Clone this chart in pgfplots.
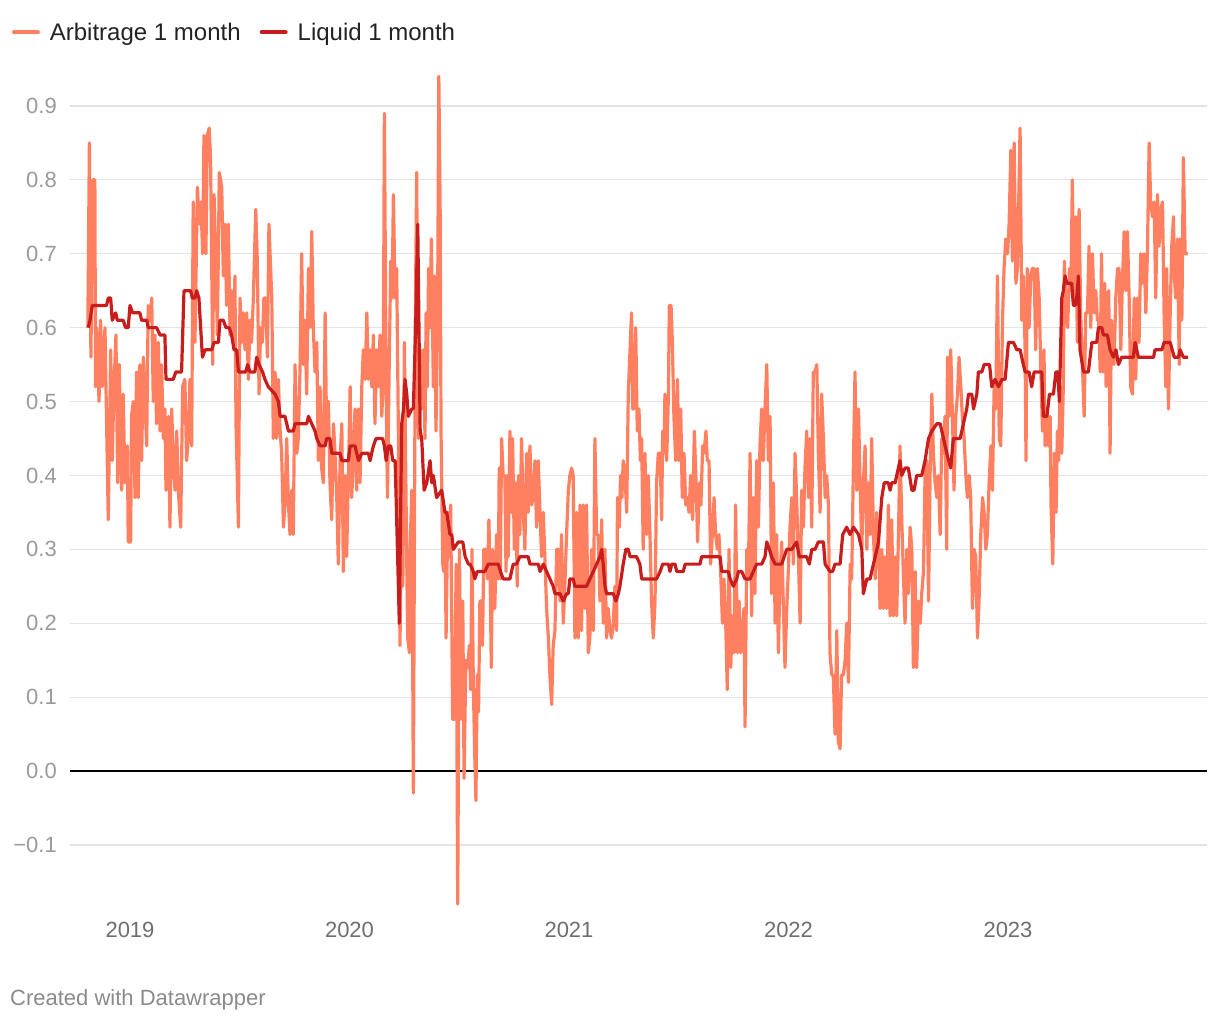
\documentclass[border=0pt]{standalone}
\usepackage{pgfplots}
\pgfplotsset{compat=1.18}
\usepackage{fontspec}
\setmainfont{Liberation Sans}
\definecolor{arb}{HTML}{FF7F61}
\definecolor{liq}{HTML}{C71E1D}
\definecolor{gridc}{HTML}{E3E3E3}
\definecolor{ygrey}{HTML}{9A9A9A}
\definecolor{xgrey}{HTML}{6E6E6E}
\definecolor{footc}{HTML}{8A8A8A}
\definecolor{legtext}{HTML}{222222}
\begin{document}
\begin{tikzpicture}
\useasboundingbox (0pt,0pt) rectangle (1220pt,1020pt);
\begin{axis}[
  at={(70pt,110pt)}, anchor=south west,
  scale only axis, width=1137pt, height=840pt,
  xmin=2018.7267, xmax=2023.9066,
  ymin=-0.188, ymax=0.9486,
  clip=false,
  axis line style={draw=none},
  major tick length=0pt,
  tick style={draw=none},
  ymajorgrids,
  grid style={gridc, line width=1.2pt},
  xtick={2019,2020,2021,2022,2023},
  xticklabels={2019,2020,2021,2022,2023},
  ytick={-0.1,0,0.1,0.2,0.3,0.4,0.5,0.6,0.7,0.8,0.9},
  yticklabels={−0.1,0.0,0.1,0.2,0.3,0.4,0.5,0.6,0.7,0.8,0.9},
  yticklabel style={anchor=east, inner sep=0pt, xshift=-13pt, text=ygrey, font=\fontsize{22}{26}\selectfont},
  xticklabel style={anchor=north, inner sep=0pt, yshift=-12pt, text=xgrey, font=\fontsize{22}{26}\selectfont},
  legend style={
    at={(axis description cs:-0.0511,1.045)}, anchor=west,
    draw=none, fill=none, inner sep=0pt, outer sep=0pt,
    font=\fontsize{24}{28}\selectfont, text=legtext,
    /tikz/every odd column/.append style={column sep=10pt},
    /tikz/every even column/.append style={column sep=19pt},
    nodes={inner sep=0pt},
  },
  legend columns=-1,
  legend image code/.code={\draw[#1, line width=4pt, line cap=round] (2pt,0pt) -- (26pt,0pt);},
]
\draw[black, line width=1.5pt] (axis cs:2018.7267,0) -- (axis cs:2023.9066,0);
\addplot[arb, line width=3.2pt, line join=round] coordinates {
(2018.808,0.60)(2018.815,0.85)(2018.822,0.56)(2018.830,0.80)(2018.840,0.80)(2018.843,0.52)(2018.848,0.60)(2018.859,0.50)(2018.866,0.61)(2018.874,0.52)
(2018.886,0.60)(2018.901,0.34)(2018.912,0.57)(2018.919,0.42)(2018.927,0.52)(2018.936,0.59)(2018.944,0.39)(2018.951,0.55)(2018.962,0.38)(2018.969,0.51)
(2018.977,0.39)(2018.988,0.44)(2018.992,0.31)(2019.003,0.31)(2019.007,0.48)(2019.015,0.50)(2019.023,0.37)(2019.030,0.54)(2019.038,0.37)(2019.045,0.55)
(2019.053,0.42)(2019.061,0.56)(2019.076,0.44)(2019.083,0.63)(2019.091,0.61)(2019.099,0.64)(2019.106,0.50)(2019.114,0.59)(2019.121,0.47)(2019.129,0.58)
(2019.137,0.46)(2019.144,0.55)(2019.152,0.45)(2019.159,0.49)(2019.164,0.38)(2019.175,0.48)(2019.182,0.33)(2019.190,0.49)(2019.197,0.42)(2019.205,0.38)
(2019.213,0.46)(2019.220,0.38)(2019.231,0.33)(2019.240,0.52)(2019.250,0.53)(2019.258,0.42)(2019.266,0.45)(2019.273,0.53)(2019.281,0.44)(2019.288,0.77)
(2019.296,0.58)(2019.307,0.79)(2019.316,0.74)(2019.323,0.77)(2019.331,0.70)(2019.337,0.86)(2019.346,0.70)(2019.352,0.86)(2019.361,0.87)(2019.367,0.83)
(2019.377,0.55)(2019.383,0.78)(2019.392,0.68)(2019.398,0.59)(2019.407,0.81)(2019.418,0.79)(2019.425,0.67)(2019.433,0.74)(2019.440,0.63)(2019.448,0.74)
(2019.456,0.59)(2019.463,0.65)(2019.471,0.58)(2019.478,0.67)(2019.483,0.47)(2019.494,0.33)(2019.501,0.64)(2019.509,0.58)(2019.516,0.62)(2019.524,0.57)
(2019.532,0.62)(2019.539,0.53)(2019.547,0.61)(2019.554,0.58)(2019.562,0.64)(2019.573,0.76)(2019.580,0.69)(2019.588,0.51)(2019.595,0.60)(2019.603,0.58)
(2019.610,0.64)(2019.618,0.64)(2019.626,0.56)(2019.633,0.74)(2019.646,0.64)(2019.653,0.45)(2019.661,0.54)(2019.668,0.45)(2019.676,0.53)(2019.684,0.46)
(2019.691,0.43)(2019.699,0.33)(2019.706,0.36)(2019.714,0.45)(2019.722,0.36)(2019.729,0.32)(2019.737,0.38)(2019.744,0.32)(2019.752,0.55)(2019.760,0.43)
(2019.767,0.45)(2019.775,0.55)(2019.782,0.70)(2019.790,0.55)(2019.797,0.61)(2019.805,0.51)(2019.813,0.68)(2019.820,0.60)(2019.828,0.73)(2019.835,0.60)
(2019.843,0.54)(2019.851,0.58)(2019.858,0.42)(2019.866,0.52)(2019.873,0.41)(2019.881,0.39)(2019.889,0.62)(2019.896,0.45)(2019.904,0.50)(2019.911,0.39)
(2019.919,0.34)(2019.927,0.47)(2019.934,0.43)(2019.942,0.37)(2019.949,0.28)(2019.957,0.42)(2019.965,0.47)(2019.972,0.27)(2019.980,0.40)(2019.987,0.29)
(2019.995,0.40)(2020.003,0.52)(2020.010,0.37)(2020.018,0.42)(2020.025,0.49)(2020.033,0.38)(2020.041,0.49)(2020.048,0.39)(2020.056,0.52)(2020.063,0.57)
(2020.071,0.53)(2020.079,0.62)(2020.086,0.53)(2020.094,0.57)(2020.101,0.52)(2020.109,0.59)(2020.116,0.47)(2020.124,0.57)(2020.132,0.52)(2020.139,0.59)
(2020.147,0.48)(2020.154,0.53)(2020.159,0.89)(2020.167,0.52)(2020.173,0.37)(2020.180,0.53)(2020.188,0.69)(2020.194,0.64)(2020.200,0.78)(2020.208,0.64)
(2020.215,0.68)(2020.223,0.45)(2020.230,0.17)(2020.238,0.37)(2020.243,0.25)(2020.250,0.58)(2020.258,0.36)(2020.265,0.18)(2020.273,0.16)(2020.276,0.30)
(2020.284,0.38)(2020.291,-0.03)(2020.296,0.33)(2020.300,0.61)(2020.306,0.81)(2020.314,0.45)(2020.322,0.57)(2020.329,0.49)(2020.337,0.57)(2020.344,0.45)
(2020.349,0.62)(2020.355,0.52)(2020.360,0.68)(2020.367,0.60)(2020.373,0.72)(2020.382,0.52)(2020.387,0.67)(2020.394,0.46)(2020.401,0.60)(2020.407,0.94)
(2020.413,0.76)(2020.417,0.46)(2020.425,0.28)(2020.429,0.27)(2020.435,0.35)(2020.440,0.18)(2020.448,0.35)(2020.455,0.29)(2020.461,0.36)(2020.470,0.07)
(2020.478,0.07)(2020.486,0.28)(2020.493,-0.18)(2020.501,0.30)(2020.508,0.07)(2020.516,0.23)(2020.522,-0.01)(2020.530,0.15)(2020.539,0.14)(2020.546,0.17)
(2020.552,0.11)(2020.558,0.30)(2020.564,0.12)(2020.570,0.03)(2020.576,-0.04)(2020.582,0.13)(2020.588,0.08)(2020.594,0.23)(2020.602,0.23)(2020.606,0.17)
(2020.612,0.30)(2020.621,0.30)(2020.629,0.26)(2020.635,0.34)(2020.640,0.28)(2020.646,0.14)(2020.652,0.30)(2020.658,0.22)(2020.662,0.22)(2020.670,0.32)
(2020.678,0.26)(2020.682,0.41)(2020.687,0.26)(2020.693,0.45)(2020.700,0.40)(2020.708,0.40)(2020.713,0.27)(2020.719,0.40)(2020.723,0.29)(2020.731,0.46)
(2020.738,0.35)(2020.743,0.45)(2020.751,0.30)(2020.758,0.39)(2020.764,0.25)(2020.770,0.40)(2020.776,0.32)(2020.784,0.45)(2020.792,0.35)(2020.799,0.30)
(2020.807,0.43)(2020.814,0.35)(2020.822,0.44)(2020.830,0.36)(2020.837,0.37)(2020.845,0.42)(2020.852,0.33)(2020.860,0.42)(2020.868,0.35)(2020.875,0.29)
(2020.883,0.35)(2020.890,0.29)(2020.898,0.22)(2020.906,0.18)(2020.913,0.13)(2020.921,0.09)(2020.928,0.17)(2020.936,0.19)(2020.944,0.30)(2020.951,0.30)
(2020.959,0.23)(2020.966,0.32)(2020.974,0.20)(2020.981,0.25)(2020.989,0.32)(2020.997,0.38)(2021.004,0.40)(2021.012,0.41)(2021.019,0.40)(2021.027,0.18)
(2021.035,0.35)(2021.042,0.18)(2021.050,0.36)(2021.057,0.19)(2021.065,0.36)(2021.073,0.22)(2021.080,0.36)(2021.088,0.16)(2021.095,0.18)(2021.103,0.30)
(2021.111,0.19)(2021.118,0.45)(2021.126,0.32)(2021.133,0.32)(2021.141,0.23)(2021.149,0.34)(2021.156,0.20)(2021.164,0.30)(2021.171,0.18)(2021.179,0.22)
(2021.187,0.19)(2021.194,0.18)(2021.202,0.20)(2021.209,0.25)(2021.217,0.19)(2021.221,0.37)(2021.229,0.33)(2021.235,0.40)(2021.241,0.37)(2021.247,0.42)
(2021.255,0.40)(2021.263,0.35)(2021.270,0.51)(2021.278,0.57)(2021.285,0.62)(2021.290,0.49)(2021.296,0.49)(2021.304,0.60)(2021.311,0.46)(2021.319,0.49)
(2021.325,0.42)(2021.331,0.45)(2021.338,0.30)(2021.346,0.43)(2021.354,0.32)(2021.361,0.40)(2021.369,0.32)(2021.376,0.23)(2021.384,0.18)(2021.392,0.23)
(2021.399,0.39)(2021.407,0.43)(2021.415,0.43)(2021.422,0.34)(2021.427,0.46)(2021.433,0.43)(2021.437,0.51)(2021.445,0.42)(2021.453,0.51)(2021.457,0.63)
(2021.465,0.63)(2021.471,0.58)(2021.478,0.48)(2021.486,0.42)(2021.494,0.53)(2021.501,0.42)(2021.509,0.49)(2021.516,0.37)(2021.524,0.43)(2021.532,0.36)
(2021.539,0.37)(2021.547,0.35)(2021.554,0.40)(2021.563,0.34)(2021.571,0.46)(2021.579,0.39)(2021.586,0.31)(2021.594,0.39)(2021.601,0.36)(2021.609,0.44)
(2021.615,0.43)(2021.624,0.46)(2021.630,0.42)(2021.638,0.42)(2021.645,0.28)(2021.653,0.32)(2021.661,0.37)(2021.668,0.32)(2021.676,0.30)(2021.683,0.32)
(2021.691,0.27)(2021.699,0.20)(2021.706,0.26)(2021.714,0.20)(2021.721,0.11)(2021.729,0.30)(2021.737,0.14)(2021.744,0.21)(2021.752,0.16)(2021.759,0.36)
(2021.767,0.16)(2021.775,0.23)(2021.782,0.16)(2021.790,0.19)(2021.797,0.22)(2021.802,0.06)(2021.810,0.30)(2021.817,0.26)(2021.825,0.43)(2021.832,0.21)
(2021.840,0.37)(2021.847,0.24)(2021.855,0.42)(2021.863,0.33)(2021.870,0.44)(2021.878,0.49)(2021.885,0.42)(2021.893,0.49)(2021.901,0.55)(2021.908,0.42)
(2021.916,0.48)(2021.923,0.24)(2021.931,0.39)(2021.939,0.20)(2021.946,0.32)(2021.954,0.16)(2021.961,0.26)(2021.969,0.31)(2021.977,0.22)(2021.984,0.14)
(2021.992,0.22)(2021.999,0.27)(2022.007,0.33)(2022.015,0.37)(2022.022,0.28)(2022.030,0.43)(2022.037,0.37)(2022.045,0.29)(2022.053,0.20)(2022.060,0.38)
(2022.068,0.33)(2022.075,0.41)(2022.083,0.46)(2022.091,0.37)(2022.098,0.45)(2022.106,0.33)(2022.113,0.54)(2022.121,0.54)(2022.129,0.55)(2022.136,0.43)
(2022.144,0.35)(2022.151,0.51)(2022.159,0.45)(2022.167,0.37)(2022.174,0.40)(2022.182,0.36)(2022.189,0.16)(2022.197,0.13)(2022.204,0.13)(2022.212,0.05)
(2022.220,0.19)(2022.227,0.04)(2022.235,0.03)(2022.242,0.13)(2022.250,0.13)(2022.258,0.15)(2022.265,0.20)(2022.273,0.12)(2022.281,0.28)(2022.288,0.26)
(2022.296,0.42)(2022.303,0.54)(2022.311,0.38)(2022.319,0.49)(2022.326,0.39)(2022.334,0.30)(2022.341,0.39)(2022.349,0.44)(2022.357,0.30)(2022.364,0.39)
(2022.372,0.32)(2022.379,0.45)(2022.387,0.32)(2022.395,0.26)(2022.402,0.35)(2022.410,0.31)(2022.417,0.22)(2022.425,0.30)(2022.432,0.22)(2022.440,0.29)
(2022.448,0.22)(2022.455,0.36)(2022.463,0.21)(2022.470,0.34)(2022.478,0.21)(2022.486,0.29)(2022.493,0.21)(2022.501,0.32)(2022.508,0.44)(2022.516,0.34)
(2022.524,0.26)(2022.531,0.20)(2022.539,0.30)(2022.546,0.24)(2022.554,0.33)(2022.562,0.30)(2022.569,0.14)(2022.577,0.27)(2022.584,0.14)(2022.592,0.23)
(2022.600,0.20)(2022.607,0.24)(2022.615,0.27)(2022.622,0.40)(2022.630,0.42)(2022.638,0.23)(2022.645,0.40)(2022.653,0.51)(2022.660,0.43)(2022.668,0.39)
(2022.676,0.37)(2022.683,0.40)(2022.691,0.32)(2022.698,0.45)(2022.706,0.43)(2022.713,0.48)(2022.721,0.30)(2022.724,0.56)(2022.732,0.48)(2022.739,0.57)
(2022.747,0.48)(2022.754,0.38)(2022.762,0.48)(2022.770,0.51)(2022.777,0.56)(2022.785,0.52)(2022.792,0.48)(2022.800,0.45)(2022.808,0.40)(2022.815,0.37)
(2022.823,0.40)(2022.830,0.37)(2022.838,0.22)(2022.846,0.30)(2022.853,0.29)(2022.861,0.18)(2022.868,0.23)(2022.876,0.32)(2022.884,0.37)(2022.891,0.35)
(2022.899,0.30)(2022.906,0.32)(2022.914,0.39)(2022.922,0.44)(2022.929,0.38)(2022.937,0.52)(2022.944,0.49)(2022.952,0.67)(2022.960,0.45)(2022.967,0.44)
(2022.975,0.61)(2022.982,0.68)(2022.990,0.72)(2022.998,0.70)(2023.005,0.74)(2023.013,0.84)(2023.020,0.69)(2023.028,0.85)(2023.036,0.66)(2023.043,0.68)
(2023.055,0.87)(2023.063,0.61)(2023.070,0.67)(2023.078,0.57)(2023.082,0.42)(2023.088,0.68)(2023.096,0.60)(2023.104,0.67)(2023.111,0.68)(2023.119,0.68)
(2023.126,0.57)(2023.134,0.68)(2023.142,0.64)(2023.149,0.55)(2023.157,0.46)(2023.164,0.57)(2023.169,0.44)(2023.177,0.49)(2023.184,0.44)(2023.192,0.48)
(2023.196,0.36)(2023.204,0.28)(2023.211,0.43)(2023.219,0.35)(2023.225,0.46)(2023.231,0.42)(2023.237,0.52)(2023.245,0.43)(2023.252,0.52)(2023.257,0.69)
(2023.265,0.62)(2023.272,0.60)(2023.280,0.68)(2023.287,0.65)(2023.293,0.80)(2023.301,0.63)(2023.309,0.75)(2023.316,0.58)(2023.324,0.76)(2023.331,0.62)
(2023.339,0.55)(2023.347,0.48)(2023.354,0.62)(2023.362,0.62)(2023.369,0.71)(2023.377,0.60)(2023.385,0.70)(2023.392,0.62)(2023.400,0.65)(2023.407,0.61)
(2023.413,0.61)(2023.420,0.54)(2023.426,0.70)(2023.433,0.54)(2023.441,0.66)(2023.447,0.52)(2023.453,0.64)(2023.459,0.65)(2023.465,0.43)(2023.471,0.61)
(2023.477,0.58)(2023.483,0.55)(2023.491,0.64)(2023.499,0.68)(2023.506,0.68)(2023.514,0.57)(2023.521,0.66)(2023.529,0.73)(2023.537,0.65)(2023.544,0.73)
(2023.552,0.64)(2023.559,0.52)(2023.567,0.51)(2023.575,0.64)(2023.582,0.53)(2023.590,0.64)(2023.597,0.58)(2023.605,0.70)(2023.612,0.66)(2023.620,0.70)
(2023.628,0.62)(2023.635,0.70)(2023.643,0.85)(2023.650,0.77)(2023.658,0.75)(2023.666,0.77)(2023.673,0.64)(2023.681,0.78)(2023.688,0.71)(2023.696,0.76)
(2023.704,0.77)(2023.711,0.62)(2023.719,0.52)(2023.723,0.68)(2023.731,0.49)(2023.739,0.62)(2023.746,0.71)(2023.754,0.75)(2023.758,0.67)(2023.764,0.64)
(2023.772,0.72)(2023.780,0.55)(2023.784,0.72)(2023.792,0.61)(2023.799,0.83)(2023.807,0.70)(2023.815,0.70)(2023.819,0.70)
};
\addlegendentry{Arbitrage 1 month}
\addplot[liq, line width=3.2pt, line join=round] coordinates {
(2018.810,0.60)(2018.818,0.61)(2018.828,0.63)(2018.893,0.63)(2018.901,0.64)(2018.912,0.64)(2018.919,0.61)(2018.935,0.62)(2018.942,0.61)(2018.969,0.61)
(2018.980,0.60)(2018.992,0.60)(2019.000,0.63)(2019.012,0.62)(2019.045,0.62)(2019.053,0.61)(2019.076,0.61)(2019.083,0.60)(2019.121,0.60)(2019.137,0.59)
(2019.159,0.59)(2019.164,0.53)(2019.197,0.53)(2019.209,0.54)(2019.235,0.54)(2019.246,0.65)(2019.276,0.65)(2019.284,0.64)(2019.296,0.64)(2019.304,0.65)
(2019.314,0.64)(2019.330,0.56)(2019.342,0.57)(2019.372,0.57)(2019.383,0.58)(2019.403,0.58)(2019.410,0.61)(2019.425,0.61)(2019.437,0.60)(2019.452,0.60)
(2019.463,0.59)(2019.474,0.57)(2019.486,0.57)(2019.494,0.54)(2019.516,0.54)(2019.527,0.54)(2019.536,0.55)(2019.547,0.54)(2019.569,0.54)(2019.577,0.56)
(2019.588,0.55)(2019.604,0.54)(2019.615,0.53)(2019.630,0.52)(2019.661,0.51)(2019.676,0.50)(2019.684,0.48)(2019.706,0.48)(2019.722,0.46)(2019.744,0.46)
(2019.752,0.47)(2019.805,0.47)(2019.813,0.48)(2019.828,0.47)(2019.843,0.46)(2019.851,0.45)(2019.866,0.44)(2019.889,0.44)(2019.896,0.45)(2019.911,0.45)
(2019.919,0.43)(2019.957,0.43)(2019.965,0.42)(2019.995,0.42)(2020.003,0.44)(2020.025,0.44)(2020.033,0.43)(2020.041,0.42)(2020.056,0.43)(2020.086,0.43)
(2020.094,0.42)(2020.101,0.43)(2020.109,0.44)(2020.121,0.45)(2020.151,0.45)(2020.159,0.44)(2020.167,0.42)(2020.177,0.44)(2020.188,0.44)(2020.197,0.42)
(2020.208,0.42)(2020.215,0.34)(2020.227,0.20)(2020.238,0.47)(2020.246,0.49)(2020.253,0.53)(2020.261,0.51)(2020.268,0.48)(2020.284,0.49)(2020.291,0.49)
(2020.302,0.61)(2020.311,0.74)(2020.322,0.46)(2020.329,0.45)(2020.340,0.38)(2020.352,0.39)(2020.367,0.42)(2020.375,0.39)(2020.382,0.40)(2020.397,0.37)
(2020.420,0.38)(2020.435,0.35)(2020.443,0.35)(2020.458,0.32)(2020.466,0.32)(2020.473,0.30)(2020.496,0.31)(2020.516,0.31)(2020.527,0.29)(2020.542,0.28)
(2020.549,0.28)(2020.564,0.27)(2020.571,0.26)(2020.582,0.27)(2020.617,0.27)(2020.632,0.28)(2020.678,0.28)(2020.688,0.27)(2020.700,0.26)(2020.731,0.26)
(2020.738,0.27)(2020.746,0.28)(2020.761,0.28)(2020.776,0.29)(2020.814,0.29)(2020.822,0.28)(2020.860,0.28)(2020.868,0.27)(2020.883,0.28)(2020.898,0.27)
(2020.913,0.26)(2020.928,0.25)(2020.936,0.24)(2020.959,0.24)(2020.974,0.23)(2020.989,0.24)(2020.997,0.24)(2021.004,0.26)(2021.019,0.26)(2021.027,0.25)
(2021.080,0.25)(2021.095,0.26)(2021.111,0.27)(2021.126,0.28)(2021.141,0.29)(2021.149,0.30)(2021.156,0.28)(2021.164,0.25)(2021.171,0.24)(2021.202,0.24)
(2021.214,0.23)(2021.225,0.24)(2021.232,0.25)(2021.247,0.28)(2021.259,0.30)(2021.270,0.30)(2021.278,0.29)(2021.308,0.29)(2021.323,0.28)(2021.331,0.26)
(2021.376,0.26)(2021.399,0.26)(2021.415,0.27)(2021.427,0.28)(2021.453,0.28)(2021.460,0.27)(2021.468,0.28)(2021.483,0.28)(2021.491,0.27)(2021.521,0.27)
(2021.529,0.28)(2021.597,0.28)(2021.604,0.29)(2021.688,0.29)(2021.696,0.27)(2021.726,0.27)(2021.734,0.26)(2021.749,0.25)(2021.764,0.26)(2021.772,0.27)
(2021.787,0.27)(2021.802,0.26)(2021.825,0.26)(2021.840,0.27)(2021.855,0.28)(2021.878,0.28)(2021.893,0.29)(2021.901,0.31)(2021.913,0.30)(2021.923,0.29)
(2021.939,0.28)(2021.969,0.28)(2021.992,0.30)(2022.015,0.30)(2022.037,0.31)(2022.049,0.29)(2022.068,0.29)(2022.083,0.29)(2022.095,0.28)(2022.106,0.30)
(2022.121,0.30)(2022.136,0.31)(2022.159,0.31)(2022.167,0.28)(2022.189,0.27)(2022.201,0.27)(2022.212,0.28)(2022.235,0.28)(2022.247,0.32)(2022.265,0.33)
(2022.280,0.32)(2022.296,0.33)(2022.319,0.32)(2022.334,0.30)(2022.341,0.24)(2022.357,0.26)(2022.372,0.26)(2022.379,0.27)(2022.395,0.29)(2022.410,0.31)
(2022.425,0.37)(2022.436,0.39)(2022.455,0.39)(2022.463,0.38)(2022.470,0.39)(2022.486,0.39)(2022.493,0.40)(2022.508,0.42)(2022.516,0.40)(2022.531,0.41)
(2022.546,0.41)(2022.562,0.38)(2022.572,0.38)(2022.584,0.40)(2022.607,0.40)(2022.622,0.42)(2022.638,0.45)(2022.653,0.46)(2022.676,0.47)(2022.691,0.47)
(2022.706,0.45)(2022.721,0.43)(2022.739,0.41)(2022.751,0.45)(2022.774,0.45)(2022.782,0.45)(2022.797,0.47)(2022.812,0.49)(2022.820,0.51)(2022.835,0.51)
(2022.843,0.49)(2022.858,0.51)(2022.865,0.54)(2022.881,0.54)(2022.891,0.55)(2022.916,0.55)(2022.926,0.52)(2022.941,0.53)(2022.957,0.52)(2022.972,0.53)
(2022.987,0.53)(2023.002,0.58)(2023.025,0.58)(2023.040,0.57)(2023.055,0.57)(2023.070,0.55)(2023.078,0.54)(2023.096,0.54)(2023.108,0.52)(2023.119,0.54)
(2023.154,0.54)(2023.161,0.48)(2023.177,0.48)(2023.189,0.51)(2023.207,0.51)(2023.218,0.54)(2023.227,0.54)(2023.234,0.50)(2023.245,0.64)(2023.252,0.65)
(2023.260,0.67)(2023.268,0.66)(2023.275,0.66)(2023.290,0.66)(2023.298,0.63)(2023.306,0.63)(2023.313,0.64)(2023.321,0.67)(2023.328,0.57)(2023.344,0.54)
(2023.366,0.54)(2023.382,0.58)(2023.404,0.58)(2023.412,0.60)(2023.427,0.60)(2023.435,0.59)(2023.453,0.59)(2023.465,0.57)(2023.480,0.56)(2023.492,0.57)
(2023.503,0.55)(2023.518,0.56)(2023.571,0.56)(2023.579,0.58)(2023.594,0.56)(2023.663,0.56)(2023.670,0.57)(2023.701,0.57)(2023.711,0.58)(2023.739,0.58)
(2023.757,0.56)(2023.777,0.56)(2023.784,0.57)(2023.799,0.56)(2023.819,0.56)
};
\addlegendentry{Liquid 1 month}
\end{axis}
\node[anchor=base west, inner sep=0pt, text=footc, font=\fontsize{22}{26}\selectfont] at (10pt,15pt) {Created with Datawrapper};
\end{tikzpicture}
\end{document}
